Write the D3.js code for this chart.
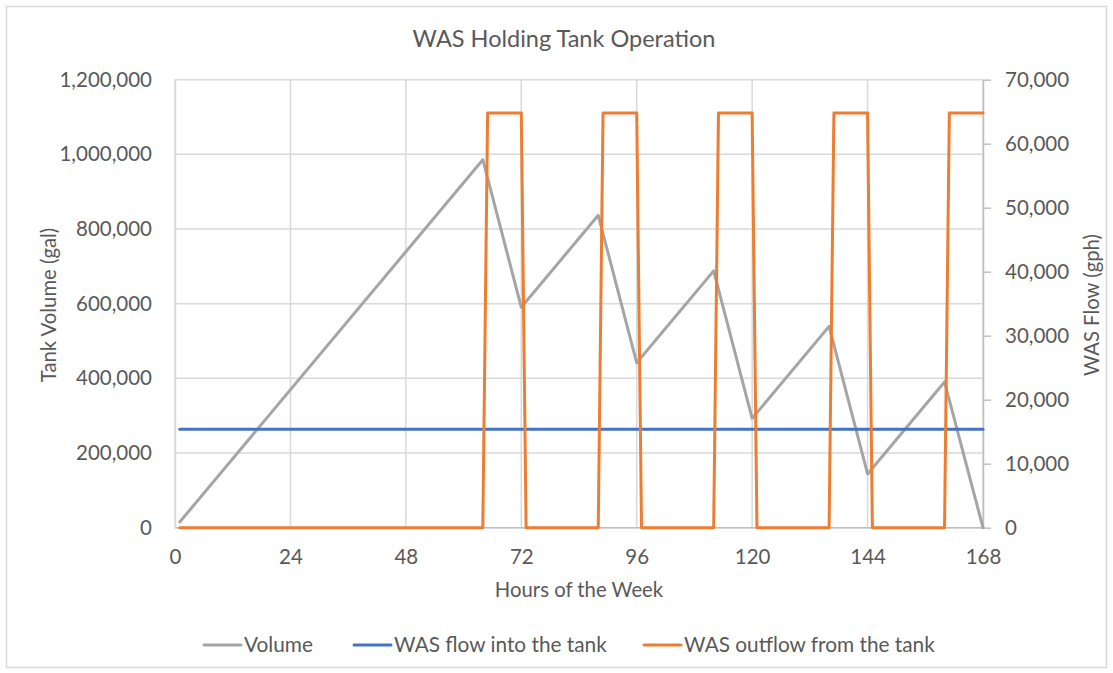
<!DOCTYPE html>
<html>
<head>
<meta charset="utf-8">
<script src="https://cdn.jsdelivr.net/npm/d3@7"></script>
<style>
  body { margin: 0; background: #fff; }
  text { font-family: Lato, "Open Sans", sans-serif; fill: #595959; }
</style>
</head>
<body>
<svg id="chart" width="1113" height="673"></svg>
<script>
// data
var volumeHours = [1, 64, 72, 88, 96, 112, 120, 136, 144, 160, 168];
var volumeGal = [15400, 985600, 590400, 836800, 441600, 688000, 292800, 539200, 144000, 390400, 0];

var inflowHours = [1, 168];
var inflowGph = [15400, 15400];

var outflowHours = [1, 64, 65, 72, 73, 88, 89, 96, 97, 112, 113, 120, 121, 136, 137, 144, 145, 160, 161, 168];
var outflowGph = [0, 0, 64800, 64800, 0, 0, 64800, 64800, 0, 0, 64800, 64800, 0, 0, 64800, 64800, 0, 0, 64800, 64800];

var hourTicks = [0, 24, 48, 72, 96, 120, 144, 168];
var volumeTicks = [0, 200000, 400000, 600000, 800000, 1000000, 1200000];
var flowTicks = [0, 10000, 20000, 30000, 40000, 50000, 60000, 70000];

var seriesNames = ["Volume", "WAS flow into the tank", "WAS outflow from the tank"];
var seriesColors = ["#a5a5a5", "#4472c4", "#ed7d31"];

var svg = d3.select("#chart");
var fmt = d3.format(",");

//#region frame
svg.append("rect")
    .attr("x", 6.5).attr("y", 6.5)
    .attr("width", 1100).attr("height", 661)
    .style("fill", "#fff")
    .style("stroke", "#d9d9d9")
    .style("stroke-width", "1.5px");

var plotLeft = 175, plotRight = 983, plotTop = 79.7, plotBottom = 527.7;

var x = d3.scaleLinear().domain([0, 168]).range([plotLeft, plotRight]);
var yL = d3.scaleLinear().domain([0, 1200000]).range([plotBottom, plotTop]);
var yR = d3.scaleLinear().domain([0, 70000]).range([plotBottom, plotTop]);

//#region grid
var grid = svg.append("g").attr("id", "grid");
grid.selectAll("line.h").data(volumeTicks).enter().append("line")
    .attr("x1", plotLeft).attr("x2", plotRight)
    .attr("y1", d => yL(d)).attr("y2", d => yL(d))
    .style("stroke", "#d9d9d9").style("stroke-width", "1.5px");
grid.selectAll("line.v").data(hourTicks).enter().append("line")
    .attr("x1", d => x(d)).attr("x2", d => x(d))
    .attr("y1", plotTop).attr("y2", plotBottom)
    .style("stroke", "#d9d9d9").style("stroke-width", "1.5px");

//#region axes
var xAxis = svg.append("g")
    .attr("transform", `translate(0,${plotBottom})`)
    .call(d3.axisBottom(x).tickValues(hourTicks).tickSize(0).tickPadding(22));
var yLAxis = svg.append("g")
    .attr("transform", `translate(${plotLeft},0)`)
    .call(d3.axisLeft(yL).tickValues(volumeTicks).tickFormat(fmt).tickSize(0).tickPadding(23));
var yRAxis = svg.append("g")
    .attr("transform", `translate(${plotRight},0)`)
    .call(d3.axisRight(yR).tickValues(flowTicks).tickFormat(fmt).tickSize(8).tickSizeOuter(0).tickPadding(14));

[xAxis, yLAxis, yRAxis].forEach(function(a){
    a.attr("font-family", null).attr("font-size", null);
    a.selectAll("text").style("font-size", "20.5px").style("fill", "#595959");
    a.selectAll("line").style("stroke", "#bfbfbf").style("stroke-width", "1.5px");
    a.select(".domain").style("stroke", "#bfbfbf").style("stroke-width", "1.5px");
});
yLAxis.select(".domain").style("stroke", "#d9d9d9");
xAxis.select(".domain").attr("d", `M${plotLeft},0H${plotRight}`);

//#region series
var line = d3.line();
function drawSeries(hours, values, yScale, color){
    svg.append("path")
        .datum(hours.map((h, i) => [x(h), yScale(values[i])]))
        .attr("d", line)
        .style("fill", "none")
        .style("stroke", color)
        .style("stroke-width", "3px")
        .style("stroke-linejoin", "round")
        .style("stroke-linecap", "round");
}
drawSeries(volumeHours, volumeGal, yL, seriesColors[0]);
drawSeries(inflowHours, inflowGph, yR, seriesColors[1]);
drawSeries(outflowHours, outflowGph, yR, seriesColors[2]);

//#region titles
svg.append("text")
    .attr("x", 564).attr("y", 47)
    .attr("text-anchor", "middle")
    .style("font-size", "23.5px")
    .text("WAS Holding Tank Operation");

svg.append("text")
    .attr("x", 579).attr("y", 597)
    .attr("text-anchor", "middle")
    .style("font-size", "20.3px")
    .text("Hours of the Week");

svg.append("text")
    .attr("transform", "translate(49,305) rotate(-90)")
    .attr("text-anchor", "middle")
    .attr("dy", "0.35em")
    .style("font-size", "20.3px")
    .text("Tank Volume (gal)");

svg.append("text")
    .attr("transform", "translate(1092,305) rotate(-90)")
    .attr("text-anchor", "middle")
    .attr("dy", "0.35em")
    .style("font-size", "20.3px")
    .text("WAS Flow (gph)");

//#region legend
var legendX = [204, 354, 644];
var legend = svg.append("g").attr("id", "legend");
seriesNames.forEach(function(name, i){
    var gItem = legend.append("g").attr("transform", `translate(${legendX[i]},645)`);
    gItem.append("line")
        .attr("x1", 0).attr("x2", 37).attr("y1", 0).attr("y2", 0)
        .style("stroke", seriesColors[i])
        .style("stroke-width", "3px")
        .style("stroke-linecap", "round");
    gItem.append("text")
        .attr("x", 40).attr("dy", "0.35em")
        .style("font-size", "20.8px")
        .text(name);
});
</script>
</body>
</html>
